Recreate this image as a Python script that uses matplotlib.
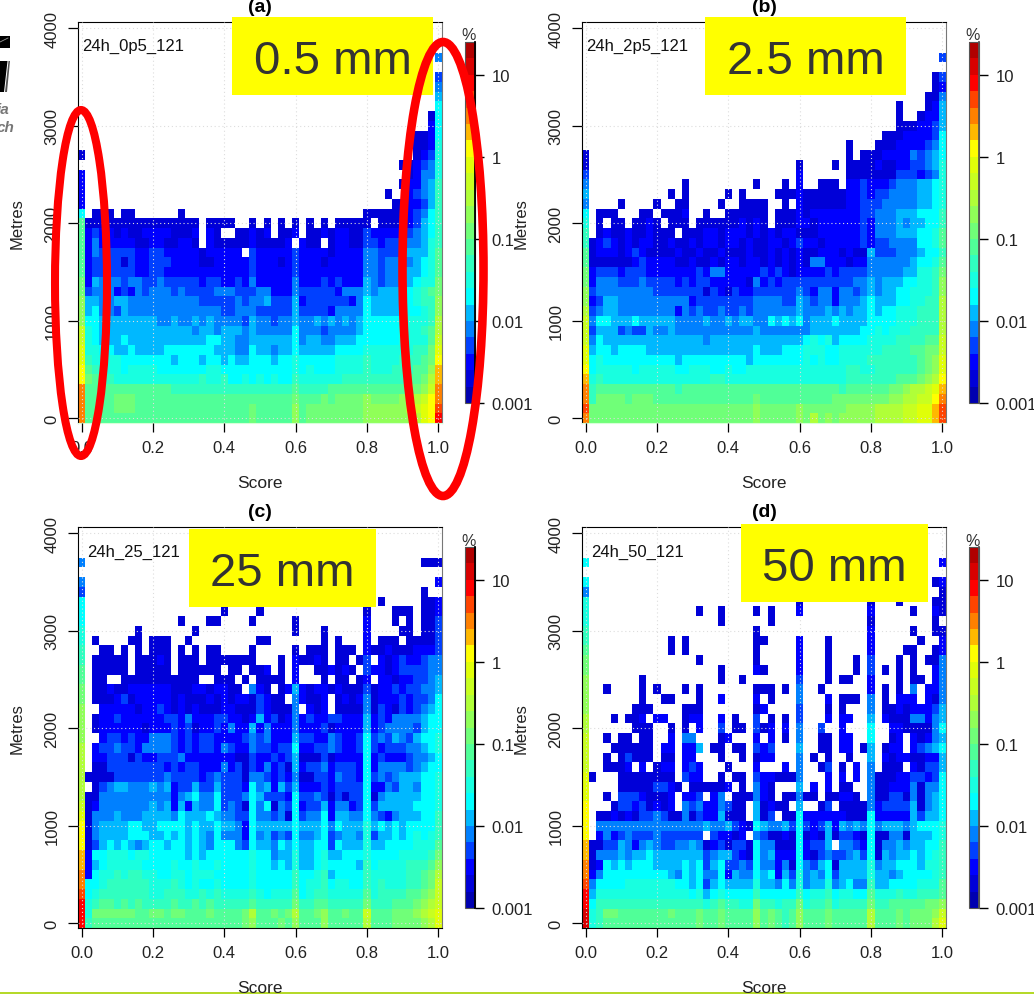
import numpy as np
import matplotlib
matplotlib.use('Agg')
import matplotlib.pyplot as plt
from matplotlib.colors import ListedColormap, BoundaryNorm
from matplotlib.patches import Ellipse, Rectangle, Polygon

plt.rcParams['font.family'] = ['Liberation Sans', 'DejaVu Sans']

W, H = 1034, 995

# colour class of each cell, a = lowest class ... v = highest, . = no data
# one string per height from 4000 m down to 0 m, groups: col 0, 1-10, 11-20, 21-30, 31-40, 41-50
BLANK = ". .......... .......... .......... .......... .........."
heights = list(range(4000, -100, -100))
scores = [i * 0.02 for i in range(51)]

rows_a = [
    BLANK, BLANK, BLANK,
    ". .......... .......... .......... .......... .........e",
    BLANK,
    ". .......... .......... .......... .......... .........d",
    ". .......... .......... .......... .......... .........e",
    ". .......... .......... .......... .......... .........f",
    ". .......... .......... .......... .......... .........g",
    ". .......... .......... .......... .......... ........bg",
    ". .......... .......... .......... .......... ........cg",
    ". .......... .......... .......... .......... ......bbcg",
    ". .......... .......... .......... .......... ......bbch",
    "b .......... .......... .......... .......... ......bcdh",
    ". .......... .......... .......... .......... ....bbcdeh",
    "c .......... .......... .......... .......... .....bceeh",
    "c .......... .......... .......... .......... ....bccefi",
    "c .......... .......... .......... .......... ..b..cdefi",
    "c .......... .......... .......... .......... ...bbccdfi",
    "g .bbb.bb... ...b...... .......... .........b bbbbbcdegi",
    "j bbbbbbbbbb bbbbbb.bbb b..b.b.b.b .b.b.bbbbb .bbbccdfgi",
    "j cdccbcbbcc ccbbbc.cb. .bbcbc.bbc .bbcbccbbd ccccddefgi",
    "j cecccccbbc cbbccb.cbb bbbcbbbbc. cbb.bccbbd dcddeeefhi",
    "j ceddddd ccd dcccccbccc cc.dcccccd ccccbcccce edddefffhj",
    "j cddddbdccd ddccccbbcc cccdcccbcd cccbccccce edeeeefghj",
    "j cddddddccd dccccccccc cccdcccccd ccccccccce edeefffghj",
    "k cfeeedeedd edddddcddc cdceccccce cccdcdcccf edeeffghhk",
    "k deeecdcede eededdddee edddeeccce dddddceeef efffgghijk",
    "l ffeeffeeee eeeeeedddd dedeefdddf cddddddceg ffffgghiil",
    "l fgeedfeeee eeeeeeeeed deeedddddf ddddceeeeg ffffggghil",
    "l ggffffffff eefeefefee eedfeedeef eefefefefg ggggghhhim",
    "n hgffffffff fffffeffef ffefeeeeeg eeedeeeefg gggghhhijm",
    "n hgfffgffff fffffffggf feeffffffg effeefffgg gggghhhhjn",
    "o hhggffgfff fgggggggff feegffeffg fffffggggh hhhhhhiiko",
    "o ihhhhggggg ggfgggfggf gffgggfggh ggggghhhhi hhhhiiijkp",
    "p jihhhghhhh ggggggghhg gggggggggh ghggghhhhi hhhiiijjlq",
    "p kjiihhhhhh hhhhhhihhi gghghghggi hhhhhhiiii iiiiijjkmq",
    "r jjjjjjjjjj jjiiiiiiii iiiiiiiiij iiiijjjjjj jjjjjkklnr",
    "r jjjjkkkjjj jjjjjjjjjj jjjjjjjjjk jjjkjkkkkl kkkkllmnpr",
    "r jjjjkkkjjj jjjjjjjjjj jjjkjjjjjl jkkkkkkkkl lllllmnops",
    "r jjjjjjjjjj jjjjjjjjjj jjjkjjjjjl jkkkkkkkkl llllllmopt",
]

rows_b = [
    BLANK, BLANK, BLANK,
    ". .......... .......... .......... .......... .........d",
    BLANK,
    ". .......... .......... .......... .......... ........bd",
    ". .......... .......... .......... .......... ........bc",
    ". .......... .......... .......... .......... .......bbe",
    ". .......... .......... .......... .......... ...b...bcf",
    ". .......... .......... .......... .......... ...b..bccf",
    ". .......... .......... .......... .......... ...bbbccdf",
    ". .......... .......... .......... .......... .bbbccccdg",
    ". .......... .......... .......... ......b... bbbccccdeg",
    "b .......... .......... .......... ......b.bb bccccedefg",
    "b .......... .......... .........b ....b.bbbb cbbccddefh",
    "d .......... .......... .........c ......bbbb bbbdddcdeh",
    "e .......... ...b...... ...b...b.c ..bbb.ccdc ccdeeeffgh",
    "f .......... .b.b.....b .b....bbbc bbbbbbccdc ddeeeeffgh",
    "e ....b....b ..bb....b. .bbbb..b.c bbbbbbccdd deeeeeffgh",
    "g .bbb...bb. bbbc..b..b bbbbb.bbbc bcccccccdd eeefffgggi",
    "h .b.bb.bbcb .bbb.bbbbb bcbcb.bbbc cbccccccdc eeefeffggi",
    "i .bcbbcbbcb bb.bbbccbc ccbcbcbccb bbccccccdc eeefffgghj",
    "i bcdcbcbccb bcbbcbccbc cbcbbccbcd ccbcccccdc ddeeeegghj",
    "j bcccbcdcbb bbcbbcbbcb bbcbbcbcbc bbcccbcbbf dddeeefggi",
    "j bbbbbbcdcc ccbbcbbcbc cbccbcbcbc beecccbcce eeeeefgghj",
    "k cdddcdddcc cccccdceec ccccdcdcbc cccdcdddde eeeeffhhik",
    "k ceeedddedd ddcdcddccc ccbecdcddd dddddddeef efffgghhil",
    "l deeeeeeeed ddddddbdcb dccdddddde dceeceedef effgghhhil",
    "l cdffeeeeee eeeecddddd dddeeeeddf edeeceeefg fffgghhiim",
    "m deffeeeeee eecededded dedeeeeeef eeefefeffg fgghhhiiim",
    "n eggfffgfff ffeeeefeef effeegfgfg efffgffffg ggghhhiiim",
    "n dfffdeddfe efeeeeeeee eeefeeeeee efffffffgg hghhhiiiim",
    "n egffffffff ffffffefff ffffffffff ghghfggggh hhhiiiijjn",
    "o fggfggggff ffffffffff fffgfffggg hhhgghhhhh hiiiijjkkn",
    "o ghgggggggg ggfggggggg ggfggggggg hghgghhhhi iiiiiijklo",
    "p ghhhhhghhh hhgghhhggh gghhhhhhhh hhhhhhiihh iiiiiijklo",
    "q hihhhhhhhh hhhhhhhiih hhhhhhhhhh hhhhhhiiii iiijjjklmp",
    "r ijjjjjjjjj jjijjjjjjj jjjjjjjjjj jjjjjijjjj jjkklmmnoq",
    "r ikkkkjkkkj jjjjjjjjjj jjjkjjjjjj jjjjkkkkkk kkllmmnnpr",
    "s kkkkkkkkkk kkkkkkkkkk kkklkkkkkl kkkkkkllll mmmmnnooqs",
    "r kkkkkkkkkk kkkkkkkkkk kkklkkkkkl kmklklllll mmmmnnooqs",
]

rows_c = [
    BLANK, BLANK, BLANK,
    "e .......... .......... .......... .......... .......bbb",
    BLANK,
    "e .......... .......... .......... .......... .........c",
    "d .......... .......... .......... .......... .......b..",
    "g .......... .......... .......... .......... .b.....bbc",
    "g .......... .........b ....b..... .........b ...bbb.bbc",
    "g .......... ...b...bb. ...b.....b .........c ...b.b.bbd",
    "h .......b.. .....b.... .........b ...b.....c ....bb.bbd",
    "h .b....bb.b bb..b..... ....bb.... ...b.b...c .bbb.bbbbd",
    "i ..bb.b.b.b bb.b.b.bb. ...b.....b .bbb.bbb.c bbcbbbcccd",
    "i .bbbbb.bbb cb.bbb.bbb bbbb...b.c bbcb.bb.bd .cbcdccdee",
    "j .bbbbb.bbb bb.bbbbbb. bb.bbc.b.c ..bbcbcb.d ccbcddddee",
    "j .bb..bbbbb bbbbbb..bb b.b.bbbb.c ...b.bb.bc .ccbccddef",
    "k .bbcbbcccc ccbbbccbcc bb.ecb.bcf cbccbcbbbd bccdcddeef",
    "k .bbbcdbccc ccbcbbbcbc bccbdcbb.e cbbc.bcbce bcccdcddeg",
    "l ..cccccbcc dcbcbcbbbc cbbbdcbbbe .cbc.bbbbe bdcbdcdefg",
    "l .bccdccccc cddcecccdd ccbcfcdbce cdccddcccf cdceeeefgg",
    "l .bccccccbc ccdcdbccdc eccfceccce cccdbccccf cdeeeedfgg",
    "l ..cddcdcce eedcdcddcc ccdedecccf ddccedccdg dedfedfggh",
    "m .cddeddcee eedcdcddce dcceddcddg ccddedccdg dcdddeefgh",
    "m .ccdddbdcc dddecccccc cbbdccdcdf bbbdbccccg cdcccdeefg",
    "m .bbddddddd dcdcddccce cdbdcecdbf cddecdddcg ceeeedefgg",
    "m bbbbdddddd deddddcded ddbeedcdce bbddceddcg dedefffggh",
    "m .bdeffeeef efcddfddfd ddcgefcfdf cccdcddddg ccedffeggh",
    "m bbeeeeeeee eecefgeegd ddegfdddcg ddedbdbddg befffffggh",
    "n bceeeeeeef efcfcfeegd edbgegbedg cddfceecdg dfffffgggh",
    "o beeefeeeff ffegfffgfe eddgeedebg deegcffeeg edcefffggi",
    "p beffffggff ggggfgffgf fecgfffffg fffgegfffh fgfgfggggi",
    "p beffffgggf fgfgfgfege eecgefdedg eefgdeffeh dffgfghghi",
    "p bdfgfgfefg gfggfgfegg gedgffegfg ffggdgfffh ffgggghhhj",
    "q cgghhhghhg ggggfgfggg ggghggeffh ffghffgggh gggghhhhik",
    "q cfghhhhhgg gghgghgghg ggghggfgfh ffghggggfi ghhhhiiijl",
    "r cghhihiihh gghhghhhgg ggghgggggi gghifggggi hhhhhiijkm",
    "r gghiiiiiih hhihghgghg ggghgggggi ghhighhggi hihhhiijkn",
    "s ghiiiiiiih hiiihhihih hhhihghhhj ghiihhhhhj hiiiijjkln",
    "t hijjijijii iijiijijii iiijiiiiik iijjiiiiik iiijjjklmn",
    "t hkkkkkkjjk kjkkjjjkjj jjkmjjkjkm jjkljjkjjn jjjkkklmno",
    "t ijjjjjjjjj jjjjjjjjjj jjkljjjkjl jjjljjjjjm jjjkkkklmo",
]

rows_d = [
    BLANK, BLANK, BLANK,
    "g .......... .......... .......... .......... .........c",
    BLANK,
    "g .......... .......... .......... .......... ........bc",
    "e .......... .......... .......... .......... .........b",
    "h .......... .......... .........b .........b ...b....bb",
    "h .......... .....b..b. ...b.b...c .........c .....b..cb",
    "h .......... ........b. .....b.... .........b ........b.",
    "i .......... .......... ...b...... .........c .....b..bb",
    "i .......... .b.b...... ...bb....c ...b.....c ......b..c",
    "j .......... .b.b...... ...b.....c ...b.....c ....bb..bc",
    "k .......... .....b.... ...b.....c ...b...b.d ...b.b.bbe",
    "k .......... ........b. ...cb....c ...b...b.d .b.b.b..ce",
    "l .......b.. ........b. .b.......d ...b.bb..c ...b.bb.ce",
    "l ..b....b.b ...b.b.... ...bbb.b.e ..b......c .b.b.e.cce",
    "l .......b.. bb...b..c. ...c.b...e ...c.bbb.e .b.ccc.cbe",
    "l ......bbb. ...bbb.... ...bc....d ...b.b...e .bbcbcccdf",
    "m ...b.bbc.c c..bcc..c. b..d.b.b.d ...c.cc..f .cbbbeecef",
    "m ......bbb. .b.b.c..d. bb.dbc.c.e ..d..c...g ..ccbbbbeg",
    "n ..b.bb.bb. .c.ee...bc ...c.c.b.e ..bb.cc..g ..bc.cbcef",
    "n ...bbbbbb. cc.ccf.bb. bb.dcd...f ..bb.cc.bf .bcc.cdefg",
    "n ..b.bdbbb. bb.cc...b. .b.bcc...e .b.b..b..f .cbccbbccf",
    "n ..bbbc.c.b cc.cdc...b ...c...c.e ..bd.b.c.e .bbb.cbddf",
    "o b...bbbbbb bb.dcc..b. bb.dccbbbe ...c.c.c.e bbbccddcdg",
    "o ....bbbbbd dcb.bbbbbc .b.ecb...f .c.c.bb..e bbccceb eeg",
    "o ..b.dddcbb bc.ccd.ce. bbbecb.bbe bb.bbccb.e bbddbebefg",
    "p ...bddcdbc bc.edecced bb.fbcbb.f ..bd.bbbbe cddddfbefg",
    "p .bbcbcbdde dbbebdccfb bb.fbd.bbg ccccccbbbg cccccfdffg",
    "p .eeeeeeeee eeeeeefeef dcbgfeefdg dcdfcfefeg efffefgggh",
    "p .cecdeddde dddddd.dcc bc.edbbcbg bcbfbddcbg bbeebfffgh",
    "q bbddfecefe ddeefebcdb ddbgeebbbg cddf.eedcg beefeffggi",
    "q beeefeffgf ffffffdeff dcbgefcccg cbdeddefdg bfeffgfghi",
    "r bcgfgfgggf fffgfgdfgd dedgeecebg edfgbffffh effgggfhhi",
    "r cegggggggg gfegfgeegc feegfgcfdh efegdffffh ffefgggghi",
    "s egggghhhhh hhggfgdfgf fffhffegeh effhefgeei ffgggghhhj",
    "t fhhhhhhhhh hhhhghfghg gggigggggi ghhighhggj hhhihhiiij",
    "t giiiiiiiii iiiiiihiji ihhkiihiik hiijhiiiik iijjjjjkkl",
    "u hikkjjjjjj jkjjjkjjkj jjjljkjijl jjjkjjjjjm jjjkjkkkln",
    "u hijjjjjjjj jjjjjkjjkj jjjljkjijl jjjkjjjjjm jjjkjkkkmo",
]

level_colors = ['#0000b0', '#0000d8', '#0000ff', '#0040ff', '#0080ff', '#00b8ff',
                '#00ffff', '#18ffe0', '#30ffc0', '#50ff98', '#70ff78', '#90ff58',
                '#b0ff38', '#c8ff20', '#e0ff08', '#ffff00', '#ffb800', '#ff8000',
                '#ff4400', '#ff0000', '#d80000', '#b00000']

tick_x = [0, 0.2, 0.4, 0.6, 0.8, 1.0]
tick_y = [0, 1000, 2000, 3000, 4000]
bar_ticks = [0.001, 0.01, 0.1, 1, 10]
bar_labels = ['0.001', '0.01', '0.1', '1', '10']

panels = [
    ('(a)', '24h_0p5_121', rows_a, 78, 23, '0.5 mm', (232, 18, 201, 78), 'black', 4),
    ('(b)', '24h_2p5_121', rows_b, 582, 23, '2.5 mm', (705, 18, 201, 78), '#555555', 4),
    ('(c)', '24h_25_121', rows_c, 78, 528, '25 mm', (189, 530, 187, 78), 'black', 9),
    ('(d)', '24h_50_121', rows_d, 582, 528, '50 mm', (741, 525, 187, 78), '#555555', 9),
]


def parse(rows):
    out = []
    for r in rows:
        s = r.replace(' ', '').ljust(51, '.')[:51]
        out.append([np.nan if c == '.' else 10 ** (-3 + (ord(c) - 97 + 0.5) / 5) for c in s])
    # rows are written top down
    return np.ma.masked_invalid(np.array(out[::-1]))


def box(x, y, w, h):
    return [x / W, 1 - (y + h) / H, w / W, h / H]


cmap = ListedColormap(level_colors)
bounds = [10 ** (-3 + k / 5) for k in range(23)]
norm = BoundaryNorm(bounds, cmap.N)

fig = plt.figure(figsize=(W / 100, H / 100), dpi=100)

x_edges = np.array(scores + [1.02]) - 0.01
y_edges = np.arange(-50, 4150, 100)

for title, tag, rows, left, top, boxtext, ybox, barline, tag_dx in panels:
    ax = fig.add_axes(box(left, top, 364, 401))
    z = parse(rows)
    mesh = ax.pcolormesh(x_edges, y_edges, z, cmap=cmap, norm=norm, antialiased=False, linewidth=0)
    ax.set_xlim(-0.01, 1.01)
    ax.set_ylim(-50, 4063)
    ax.set_xticks(tick_x)
    ax.set_xticklabels(['%.1f' % t for t in tick_x])
    ax.set_yticks(tick_y)
    ax.set_yticklabels([str(t) for t in tick_y], rotation=90, va='center')
    ax.tick_params(axis='x', length=6.5, width=0.9, pad=6, labelsize=12, labelcolor='#222222')
    ax.tick_params(axis='y', length=7, width=0.9, pad=6.5, labelsize=12, labelcolor='#222222')
    ax.grid(True, color='#dddddd', linestyle=(0, (1, 2.5)), linewidth=0.8)
    ax.set_axisbelow(False)
    ax.spines['right'].set_color('#777777')
    if top < 100:
        ax.spines['bottom'].set_color('#d8ffd8')
    fig.text((left + tag_dx) / W, 1 - (top + 23 + (tag_dx - 4) / 5) / H, tag, fontsize=12, color='#111111', va='center')
    fig.text((left + 182) / W, 1 - (top - 15) / H, title, fontsize=14, fontweight='bold', ha='center', va='center')
    fig.text((left + 182) / W, 1 - (top + 461) / H, 'Score', fontsize=12.5, ha='center', va='center', color='#222222')
    fig.text((left - 61) / W, 1 - (top + 201) / H, 'Metres', fontsize=12, rotation=90, ha='center', va='center', color='#222222')

    cax = fig.add_axes(box(left + 387, top + 20, 9.5, 361))
    cb = fig.colorbar(mesh, cax=cax, ticks=bar_ticks)
    cb.minorticks_off()
    cb.ax.set_yticklabels(bar_labels)
    cb.ax.tick_params(length=6.5, width=1, pad=6, labelsize=12, labelcolor='#222222')
    cb.outline.set_edgecolor('#555555')
    cb.outline.set_linewidth(0.8)
    fig.text((left + 391) / W, 1 - (top + 13) / H, '%', fontsize=11.5, ha='center', va='center', color='#333333')

# everything pasted on top of the plots
over = fig.add_axes([0, 0, 1, 1], facecolor='none')
over.set_xlim(0, W)
over.set_ylim(H, 0)
over.axis('off')

for title, tag, rows, left, top, boxtext, ybox, barline, tag_dx in panels:
    over.plot([left + 396.5, left + 396.5], [top + 20, top + 381], color=barline, lw=1.3, zorder=2)
    over.add_patch(Rectangle(ybox[:2], ybox[2], ybox[3], facecolor='#ffff00', edgecolor='none', zorder=3))
    over.text(ybox[0] + ybox[2] / 2, ybox[1] + ybox[3] / 2 + 5, boxtext, fontsize=34, color='#333333',
              ha='center', va='center', zorder=4)

over.add_patch(Ellipse((81, 284), 52, 346, fill=False, edgecolor='#ff0000', lw=5.8, zorder=5))
over.add_patch(Ellipse((443, 270), 81, 454, fill=False, edgecolor='#ff0000', lw=6.2, zorder=5))

# bit of a logo cut by the left edge
over.add_patch(Polygon([(0, 37), (10, 37), (10, 49), (0, 49)], facecolor='black', edgecolor='none'))
over.plot([0, 8], [43, 39], color='#999999', lw=0.6)
over.add_patch(Polygon([(0, 62), (7.5, 62), (4, 93), (0, 93)], facecolor='black', edgecolor='none'))
over.add_patch(Polygon([(8.5, 62), (10, 62), (7, 93), (5, 93)], facecolor='#555555', edgecolor='none'))
over.text(-3, 110, 'ia', fontsize=11, fontweight='bold', fontstyle='italic', color='#777777', va='center')
over.text(-3, 128, 'ch', fontsize=11, fontweight='bold', fontstyle='italic', color='#777777', va='center')

over.add_patch(Rectangle((0, 993), W, 2, facecolor='#b5d92a', edgecolor='none', zorder=6))

fig.savefig('out.png', dpi=100)
